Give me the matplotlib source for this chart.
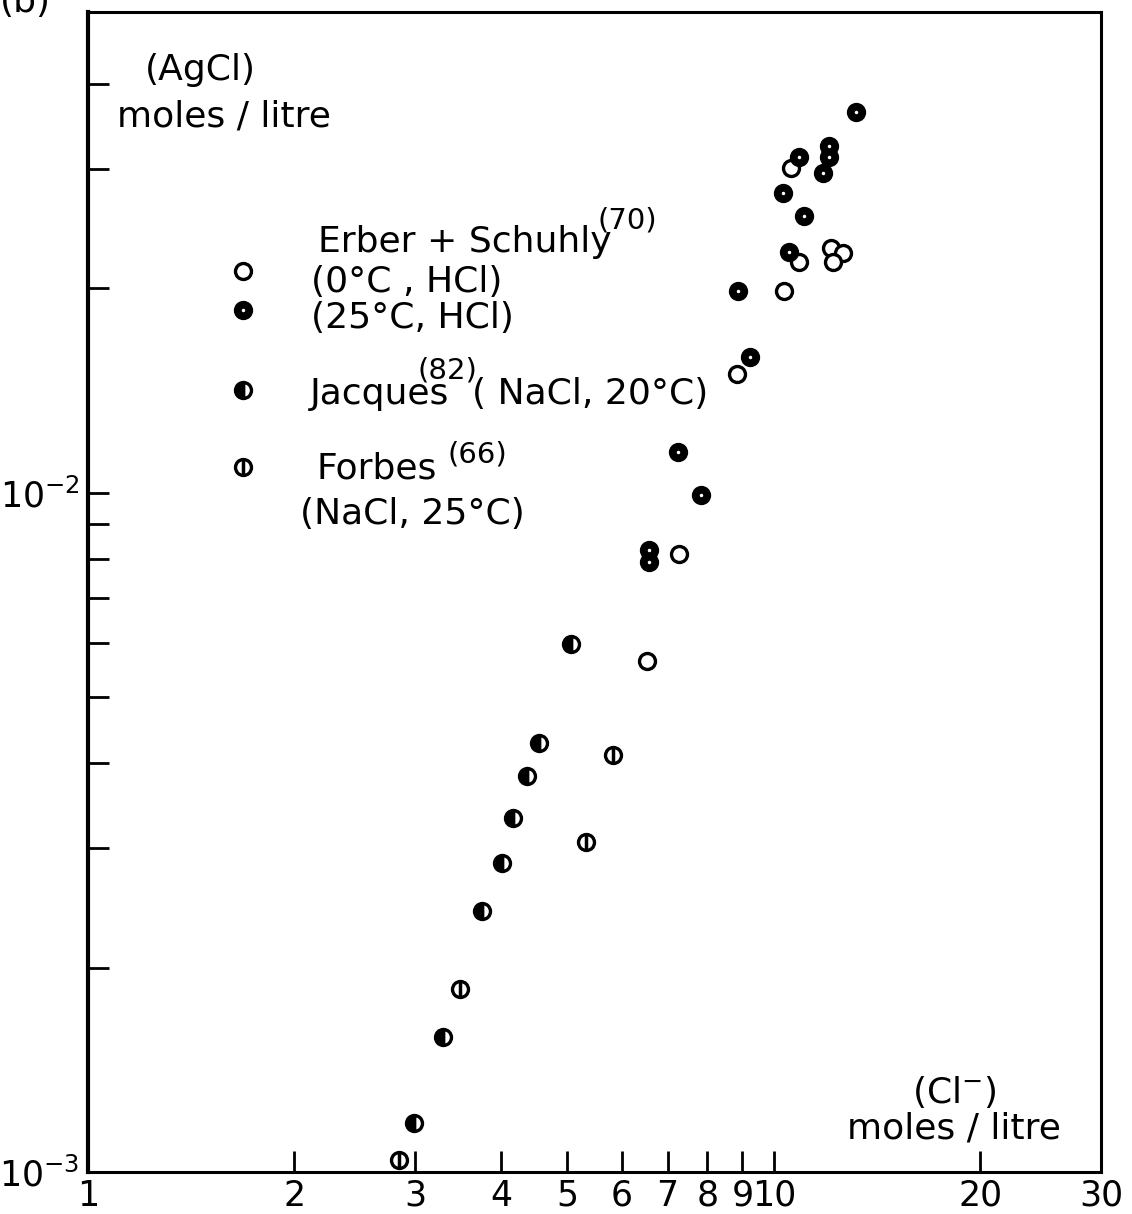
import numpy as np
import matplotlib.pyplot as plt
from matplotlib.ticker import FixedLocator, NullFormatter, FixedFormatter

plt.rcParams['font.family'] = ['DejaVu Sans']

# ---- data: (Cl-) vs (AgCl), moles/litre ----

# Erber + Schuhly, 0 C, HCl (open circles)
hcl0_x = [10.59, 10.88, 12.11, 12.61, 12.19, 10.34, 8.83, 7.27, 6.53]
hcl0_y = [0.0301, 0.02189, 0.02295, 0.02257, 0.02189, 0.01984, 0.01497, 0.00813, 0.00566]

# Erber + Schuhly, 25 C, HCl
hcl25_x = [13.17, 12.03, 12.03, 10.88, 11.79, 10.30, 11.06, 10.52, 8.86, 9.22,
           7.24, 7.83, 6.57, 6.57]
hcl25_y = [0.0364, 0.03233, 0.03125, 0.03115, 0.0296, 0.02766, 0.0255, 0.02264,
           0.01984, 0.01586, 0.01149, 0.00993, 0.00824, 0.00791]

# Jacques, NaCl 20 C
jac_x = [5.07, 4.54, 4.37, 4.17, 4.02, 3.76, 3.29, 2.99]
jac_y = [0.00599, 0.00428, 0.00383, 0.00332, 0.00285, 0.00242, 0.00158, 0.00118]

# Forbes, NaCl 25 C
forb_x = [5.82, 5.33, 3.49, 2.84]
forb_y = [0.00411, 0.00306, 0.00186, 0.00104]

x_major = [1, 2, 3, 4, 5, 6, 7, 8, 9, 10, 20, 30]
x_labels = ["1", "2", "3", "4", "5", "6", "7", "8", "9", "10", "20", "30"]
y_major = [1e-3, 1e-2]
y_labels = [r"$10^{-3}$", r"$10^{-2}$"]
y_minor = [2e-3, 3e-3, 4e-3, 5e-3, 6e-3, 7e-3, 8e-3, 9e-3, 2e-2, 3e-2, 4e-2]

W, H = 1132, 1214
fig = plt.figure(figsize=(W / 100, H / 100), dpi=100)
ax = fig.add_axes([88 / W, 1 - 1172 / H, (1101 - 88) / W, (1172 - 12) / H])
ax.set_xscale("log")
ax.set_yscale("log")
ax.set_xlim(1, 30)
ax.set_ylim(1e-3, 0.051)

ms = 11.5
mew = 2.4


def open_pts(x, y):
    ax.plot(x, y, ls="none", marker="o", ms=ms, mfc="white", mec="black",
            mew=mew, clip_on=False, zorder=3)


def warm_pts(x, y):
    ax.plot(x, y, ls="none", marker="o", ms=ms, mfc="black", mec="black",
            mew=mew, clip_on=False, zorder=3)
    ax.plot(x, y, ls="none", marker="o", ms=2.5, mfc="white", mec="white",
            mew=0, clip_on=False, zorder=4)


def bar_pts(x, y, heavy):
    if heavy:
        ax.plot(x, y, ls="none", marker="o", ms=ms, mfc="black", mfcalt="white",
                fillstyle="left", mec="black", mew=mew, clip_on=False, zorder=3)
    else:
        ax.plot(x, y, ls="none", marker="o", ms=ms, mfc="white", mec="black",
                mew=mew, clip_on=False, zorder=3)
    ax.plot(x, y, ls="none", marker="|", ms=ms - 2, mec="black", mew=2.5,
            clip_on=False, zorder=4)


open_pts(hcl0_x, hcl0_y)
warm_pts(hcl25_x, hcl25_y)
bar_pts(jac_x, jac_y, True)
bar_pts(forb_x, forb_y, False)

# ticks: inward, no grid
ax.xaxis.set_major_locator(FixedLocator(x_major))
ax.xaxis.set_major_formatter(FixedFormatter(x_labels))
ax.xaxis.set_minor_locator(FixedLocator([]))
ax.yaxis.set_major_locator(FixedLocator(y_major))
ax.yaxis.set_major_formatter(FixedFormatter(y_labels))
ax.yaxis.set_minor_locator(FixedLocator(y_minor))
ax.yaxis.set_minor_formatter(NullFormatter())
ax.tick_params(axis="both", which="both", direction="in", length=15, width=2,
               labelsize=25, top=False, right=False)
ax.tick_params(axis="x", pad=5)
ax.tick_params(axis="y", pad=6)
for s in ax.spines.values():
    s.set_linewidth(2.2)
ax.spines["left"].set_linewidth(3)


def ftext(px, py, s, size=26, **kw):
    fig.text(px / W, 1 - py / H, s, fontsize=size, va="center", ha="left", **kw)


ftext(0, 2, "(b)")
ftext(145, 70, "(AgCl)")
ftext(117, 116, "moles / litre")

ftext(318, 242, "Erber + Schuhly")
ftext(598, 220, "(70)", size=21)
ftext(311, 282, "(0°C , HCl)")
ftext(311, 318, "(25°C, HCl)")
ftext(310, 394, "Jacques")
ftext(418, 370, "(82)", size=21)
ftext(472, 394, "( NaCl, 20°C)")
ftext(316, 468, "Forbes")
ftext(448, 455, "(66)", size=21)
ftext(300, 514, "(NaCl, 25°C)")

ftext(912, 1092, "(Cl$^{-}$)")
ftext(847, 1128, "moles / litre")

# legend symbols
lx = 1.68
ax.plot([lx], [0.0212], ls="none", marker="o", ms=ms, mfc="white", mec="black",
        mew=mew, clip_on=False)
ax.plot([lx], [0.0186], ls="none", marker="o", ms=ms, mfc="black", mec="black",
        mew=mew, clip_on=False)
ax.plot([lx], [0.0186], ls="none", marker="o", ms=2.5, mfc="white", mew=0)
bar_pts([lx], [0.01416], True)
bar_pts([lx], [0.01092], False)

fig.savefig("out.png", dpi=100)
